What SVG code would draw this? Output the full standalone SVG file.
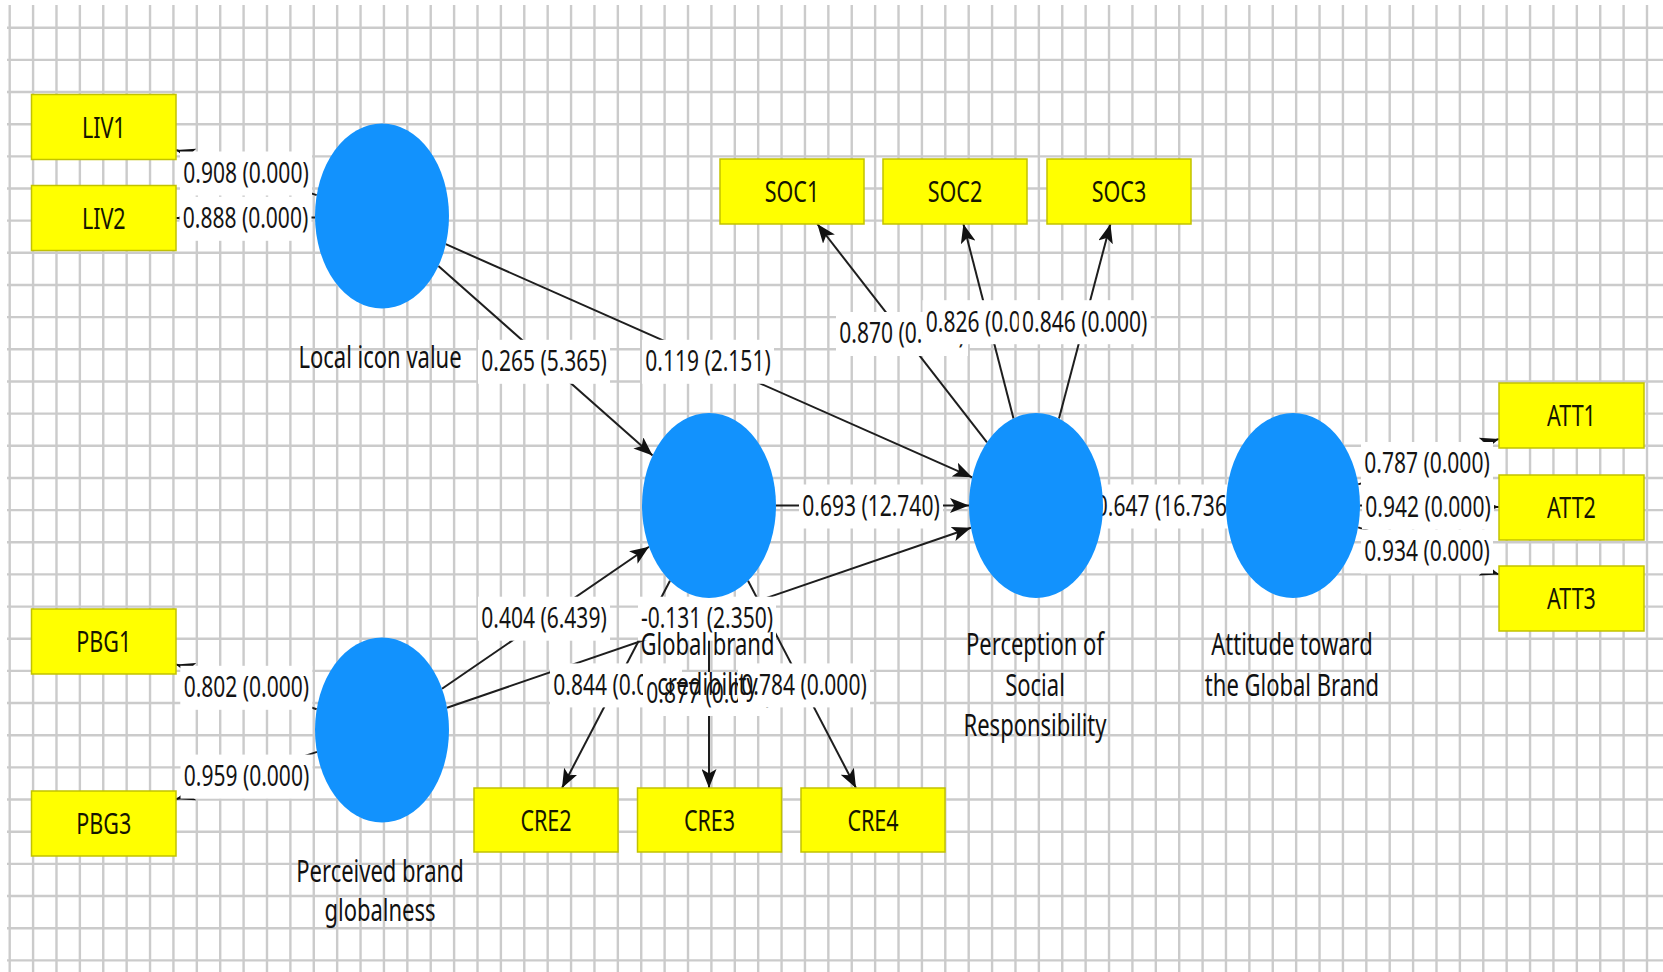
<svg xmlns="http://www.w3.org/2000/svg" width="1663" height="972" viewBox="0 0 1663 972">
  <style>
    .grid { stroke: #cbcbcb; stroke-width: 2.4; fill: none; }
    .edge { stroke: #1e1e1e; stroke-width: 2; fill: none; marker-end: url(#arrow); }
    .lbg { fill: #ffffff; }
    .val { font-family: "Noto Sans", "Liberation Sans", sans-serif; font-size: 21px; fill: #141414; text-anchor: middle; }
    .name { font-family: "Noto Sans", "Liberation Sans", sans-serif; font-size: 22px; fill: #111111; text-anchor: middle; }
    .latent { fill: #1292fd; }
    .ind { fill: #ffff00; stroke: #c2c200; stroke-width: 1.5; }
    .indt { font-family: "Noto Sans", "Liberation Sans", sans-serif; font-size: 21.5px; fill: #151500; text-anchor: middle; }
  </style>
  <defs>
    <marker id="arrow" viewBox="0 0 19 15" refX="19" refY="7.5" markerWidth="19" markerHeight="15" markerUnits="userSpaceOnUse" orient="auto">
      <path d="M0,0 L19,7.5 L0,15 L4.5,7.5 Z" fill="#111111"/>
    </marker>
  </defs>

  <rect width="1663" height="972" fill="#ffffff"/>

  <!-- background grid: 23.39 px columns, 32.16 px rows -->
  <path class="grid" d="M9.7 5V972M33.09 5V972M56.48 5V972M79.87 5V972M103.26 5V972M126.65 5V972M150.04 5V972M173.43 5V972M196.82 5V972M220.21 5V972M243.6 5V972M266.99 5V972M290.38 5V972M313.77 5V972M337.16 5V972M360.55 5V972M383.94 5V972M407.33 5V972M430.72 5V972M454.11 5V972M477.5 5V972M500.89 5V972M524.28 5V972M547.67 5V972M571.06 5V972M594.45 5V972M617.84 5V972M641.23 5V972M664.62 5V972M688.01 5V972M711.4 5V972M734.79 5V972M758.18 5V972M781.57 5V972M804.96 5V972M828.35 5V972M851.74 5V972M875.13 5V972M898.52 5V972M921.91 5V972M945.3 5V972M968.69 5V972M992.08 5V972M1015.47 5V972M1038.86 5V972M1062.25 5V972M1085.64 5V972M1109.03 5V972M1132.42 5V972M1155.81 5V972M1179.2 5V972M1202.59 5V972M1225.98 5V972M1249.37 5V972M1272.76 5V972M1296.15 5V972M1319.54 5V972M1342.93 5V972M1366.32 5V972M1389.71 5V972M1413.1 5V972M1436.49 5V972M1459.88 5V972M1483.27 5V972M1506.66 5V972M1530.05 5V972M1553.44 5V972M1576.83 5V972M1600.22 5V972M1623.61 5V972M1647 5V972"/>
  <path class="grid" d="M7 27.7H1663M7 59.86H1663M7 92.02H1663M7 124.18H1663M7 156.34H1663M7 188.5H1663M7 220.66H1663M7 252.82H1663M7 284.98H1663M7 317.14H1663M7 349.3H1663M7 381.46H1663M7 413.62H1663M7 445.78H1663M7 477.94H1663M7 510.1H1663M7 542.26H1663M7 574.42H1663M7 606.58H1663M7 638.74H1663M7 670.9H1663M7 703.06H1663M7 735.22H1663M7 767.38H1663M7 799.54H1663M7 831.7H1663M7 863.86H1663M7 896.02H1663M7 928.18H1663M7 960.34H1663"/>

  <!-- paths and loadings -->
  <g id="connectors">
    <line class="edge" x1="316.7" y1="195.1" x2="176" y2="150"/>
    <line class="edge" x1="315" y1="217.5" x2="176" y2="218"/>
    <line class="edge" x1="316.7" y1="709.2" x2="176" y2="664.4"/>
    <line class="edge" x1="317" y1="751.9" x2="176" y2="799.3"/>
    <line class="edge" x1="987" y1="442.4" x2="817.3" y2="224"/>
    <line class="edge" x1="1013.5" y1="418.4" x2="963.4" y2="224"/>
    <line class="edge" x1="1059" y1="418.4" x2="1110.4" y2="224"/>
    <line class="edge" x1="670" y1="580.7" x2="562" y2="788"/>
    <line class="edge" x1="709" y1="598" x2="709" y2="788"/>
    <line class="edge" x1="748" y1="580.7" x2="856" y2="788"/>
    <line class="edge" x1="1358.2" y1="484.4" x2="1499" y2="438.9"/>
    <line class="edge" x1="1360" y1="505.5" x2="1499" y2="507"/>
    <line class="edge" x1="1358.2" y1="527.4" x2="1499" y2="574.4"/>
    <line class="edge" x1="438.4" y1="266" x2="652.6" y2="455.6"/>
    <line class="edge" x1="445.8" y1="244.2" x2="972.2" y2="477.3"/>
    <line class="edge" x1="442" y1="688.8" x2="649" y2="546.7"/>
    <line class="edge" x1="447" y1="707.7" x2="971" y2="527.8"/>
    <line class="edge" x1="776" y1="505.5" x2="969" y2="505.5"/>
    <line class="edge" x1="1103" y1="505.5" x2="1226" y2="505.5"/>
  </g>

  <!-- coefficient labels on white plates -->
  <g id="edge-labels">
    <rect class="lbg" x="180" y="151.5" width="132" height="44"/>
    <text class="val" transform="matrix(1 0 0 1.375 246 182.8)">0.908 (0.000)</text>
    <rect class="lbg" x="179.5" y="196.8" width="132" height="44"/>
    <text class="val" transform="matrix(1 0 0 1.375 245.5 228.1)">0.888 (0.000)</text>
    <rect class="lbg" x="180.3" y="665.8" width="132" height="44"/>
    <text class="val" transform="matrix(1 0 0 1.375 246.3 697.1)">0.802 (0.000)</text>
    <rect class="lbg" x="180.5" y="754.6" width="132" height="44"/>
    <text class="val" transform="matrix(1 0 0 1.375 246.5 785.9)">0.959 (0.000)</text>

    <rect class="lbg" x="478" y="339.8" width="132" height="44"/>
    <text class="val" transform="matrix(1 0 0 1.375 544 371.1)">0.265 (5.365)</text>
    <rect class="lbg" x="642" y="339.8" width="132" height="44"/>
    <text class="val" transform="matrix(1 0 0 1.375 708 371.1)">0.119 (2.151)</text>
    <rect class="lbg" x="478" y="596.7" width="132" height="44"/>
    <text class="val" transform="matrix(1 0 0 1.375 544 628)">0.404 (6.439)</text>
    <rect class="lbg" x="638" y="596.7" width="138" height="44"/>
    <text class="val" transform="matrix(1 0 0 1.375 707 628)">-0.131 (2.350)</text>
    <rect class="lbg" x="799" y="484.5" width="144" height="44"/>
    <text class="val" transform="matrix(1 0 0 1.375 871 515.8)">0.693 (12.740)</text>
    <rect class="lbg" x="1093" y="484.5" width="143" height="44"/>
    <text class="val" transform="matrix(1 0 0 1.375 1164.5 515.8)">0.647 (16.736)</text>

    <rect class="lbg" x="836" y="312" width="132" height="44"/>
    <text class="val" transform="matrix(1 0 0 1.375 902 343.3)">0.870 (0.000)</text>
    <rect class="lbg" x="922.5" y="300.2" width="132" height="44"/>
    <text class="val" transform="matrix(1 0 0 1.375 988.5 331.5)">0.826 (0.000)</text>
    <rect class="lbg" x="1018.7" y="300.2" width="132" height="44"/>
    <text class="val" transform="matrix(1 0 0 1.375 1084.7 331.5)">0.846 (0.000)</text>

    <rect class="lbg" x="550" y="663.4" width="132" height="44"/>
    <text class="val" transform="matrix(1 0 0 1.375 616 694.7)">0.844 (0.000)</text>
    <rect class="lbg" x="643" y="672" width="132" height="44"/>
    <text class="val" transform="matrix(1 0 0 1.375 709 703.3)">0.877 (0.000)</text>
    <rect class="lbg" x="738" y="663.4" width="132" height="44"/>
    <text class="val" transform="matrix(1 0 0 1.375 804 694.7)">0.784 (0.000)</text>

    <rect class="lbg" x="1361" y="442" width="132" height="44"/>
    <text class="val" transform="matrix(1 0 0 1.375 1427 473.3)">0.787 (0.000)</text>
    <rect class="lbg" x="1362" y="485.3" width="132" height="44"/>
    <text class="val" transform="matrix(1 0 0 1.375 1428 516.6)">0.942 (0.000)</text>
    <rect class="lbg" x="1361" y="529.5" width="132" height="44"/>
    <text class="val" transform="matrix(1 0 0 1.375 1427 560.8)">0.934 (0.000)</text>
  </g>

  <!-- latent variables -->
  <g id="local-icon-value">
    <ellipse class="latent" cx="382" cy="216" rx="67" ry="92.5"/>
    <text class="name" transform="matrix(1 0 0 1.375 380 368.3)">Local icon value</text>
  </g>
  <g id="perceived-brand-globalness">
    <ellipse class="latent" cx="382" cy="730" rx="67" ry="92.5"/>
    <text class="name" transform="matrix(1 0 0 1.375 380 881.5)">Perceived brand</text>
    <text class="name" transform="matrix(1 0 0 1.375 380 920.8)">globalness</text>
  </g>
  <g id="global-brand-credibility">
    <ellipse class="latent" cx="709" cy="505.5" rx="67" ry="92.5"/>
    <text class="name" transform="matrix(1 0 0 1.375 707.5 654.8)">Global brand</text>
    <text class="name" transform="matrix(1 0 0 1.375 707.5 694.8)">credibility</text>
  </g>
  <g id="perception-of-social-responsibility">
    <ellipse class="latent" cx="1036" cy="505.5" rx="67" ry="92.5"/>
    <text class="name" transform="matrix(1 0 0 1.375 1035 654.8)">Perception of</text>
    <text class="name" transform="matrix(1 0 0 1.375 1035 695.8)">Social</text>
    <text class="name" transform="matrix(1 0 0 1.375 1035 736.3)">Responsibility</text>
  </g>
  <g id="attitude-toward-global-brand">
    <ellipse class="latent" cx="1293" cy="505.5" rx="67" ry="92.5"/>
    <text class="name" transform="matrix(1 0 0 1.375 1292 654.8)">Attitude toward</text>
    <text class="name" transform="matrix(1 0 0 1.375 1292 695.8)">the Global Brand</text>
  </g>

  <!-- indicators -->
  <g id="LIV1"><rect class="ind" x="31.5" y="94.5" width="144.5" height="65"/><text class="indt" transform="matrix(1 0 0 1.375 103.75 137.5)">LIV1</text></g>
  <g id="LIV2"><rect class="ind" x="31.5" y="185.5" width="144.5" height="65"/><text class="indt" transform="matrix(1 0 0 1.375 103.75 228.5)">LIV2</text></g>
  <g id="PBG1"><rect class="ind" x="31.5" y="609" width="144.5" height="65"/><text class="indt" transform="matrix(1 0 0 1.375 103.75 652)">PBG1</text></g>
  <g id="PBG3"><rect class="ind" x="31.5" y="791" width="144.5" height="65"/><text class="indt" transform="matrix(1 0 0 1.375 103.75 834)">PBG3</text></g>
  <g id="SOC1"><rect class="ind" x="720" y="159" width="144" height="65"/><text class="indt" transform="matrix(1 0 0 1.375 792 202)">SOC1</text></g>
  <g id="SOC2"><rect class="ind" x="883" y="159" width="144" height="65"/><text class="indt" transform="matrix(1 0 0 1.375 955 202)">SOC2</text></g>
  <g id="SOC3"><rect class="ind" x="1047" y="159" width="144" height="65"/><text class="indt" transform="matrix(1 0 0 1.375 1119 202)">SOC3</text></g>
  <g id="CRE2"><rect class="ind" x="474" y="788" width="144" height="64"/><text class="indt" transform="matrix(1 0 0 1.375 546 830.5)">CRE2</text></g>
  <g id="CRE3"><rect class="ind" x="637.5" y="788" width="144" height="64"/><text class="indt" transform="matrix(1 0 0 1.375 709.5 830.5)">CRE3</text></g>
  <g id="CRE4"><rect class="ind" x="801" y="788" width="144" height="64"/><text class="indt" transform="matrix(1 0 0 1.375 873 830.5)">CRE4</text></g>
  <g id="ATT1"><rect class="ind" x="1499" y="383" width="145" height="65"/><text class="indt" transform="matrix(1 0 0 1.375 1571.5 426)">ATT1</text></g>
  <g id="ATT2"><rect class="ind" x="1499" y="475" width="145" height="65"/><text class="indt" transform="matrix(1 0 0 1.375 1571.5 518)">ATT2</text></g>
  <g id="ATT3"><rect class="ind" x="1499" y="566" width="145" height="65"/><text class="indt" transform="matrix(1 0 0 1.375 1571.5 609)">ATT3</text></g>
</svg>
